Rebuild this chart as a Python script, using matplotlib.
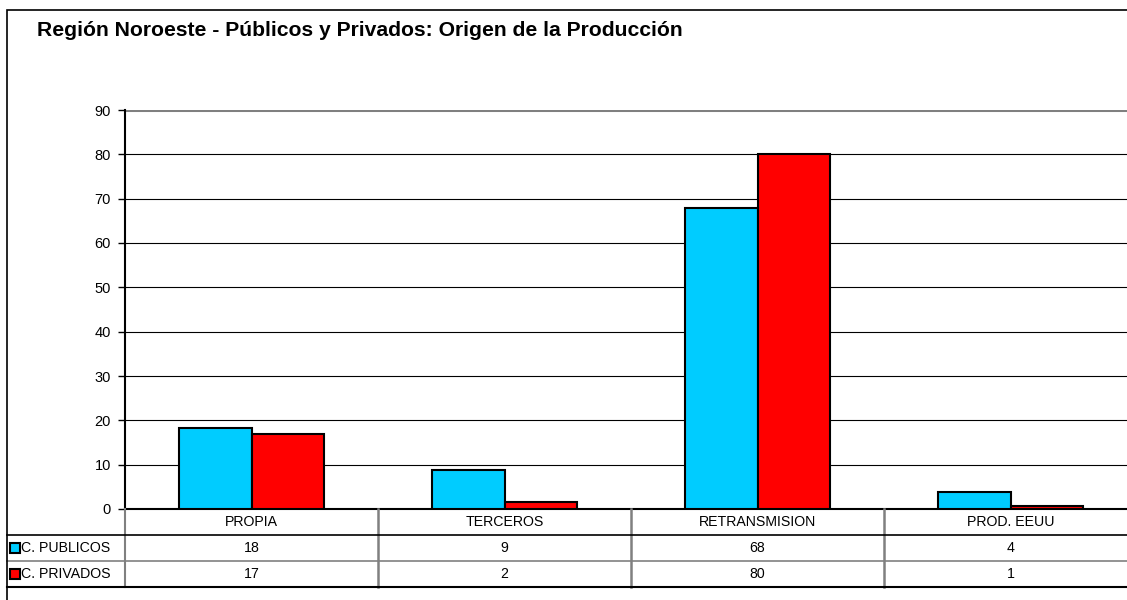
import numpy as np
import matplotlib.pyplot as plt
from matplotlib.patches import Rectangle

plt.rcParams['font.family'] = ['Liberation Sans', 'DejaVu Sans']

categories = ['PROPIA', 'TERCEROS', 'RETRANSMISION', 'PROD. EEUU']
series_names = ['C. PUBLICOS', 'C. PRIVADOS']
publicos = [18.2, 8.8, 67.8, 3.9]
privados = [16.9, 1.6, 80.1, 0.6]
colors = ['#00CCFF', '#FF0000']
yticks = list(range(0, 100, 10))

W, H = 1127, 600


def fx(px):
    return px / W


def fy(py):
    return 1 - py / H


fig = plt.figure(figsize=(W / 100, H / 100), dpi=100)

# outer frame (cut off right and bottom like the original)
fig.patches.append(Rectangle((fx(7), fy(620)), fx(1200), fy(10) - fy(620),
                             transform=fig.transFigure, fill=False,
                             edgecolor='black', lw=1.2))

fig.text(fx(37), fy(31), 'Región Noroeste - Públicos y Privados: Origen de la Producción',
         fontsize=15.2, fontweight='bold', va='center', ha='left')

ax = fig.add_axes([fx(125), fy(509), fx(1012), fy(110) - fy(509)])
x = np.arange(len(categories))
bw = 0.287
ax.bar(x - bw / 2, publicos, bw, color=colors[0], edgecolor='black', lw=1.5, zorder=3)
ax.bar(x + bw / 2, privados, bw, color=colors[1], edgecolor='black', lw=1.5, zorder=3)
ax.set_xlim(-0.5, len(categories) - 0.5)
ax.set_ylim(0, 90)
ax.set_yticks(yticks)
ax.set_xticks([])
ax.tick_params(axis='y', length=5, width=1, labelsize=10.5, pad=5, direction='out')
for t in yticks[1:-1]:
    ax.axhline(t, color='black', lw=0.8, zorder=1)
ax.axhline(90, color='#808080', lw=2.2, zorder=1)
for s in ['top', 'right']:
    ax.spines[s].set_visible(False)
ax.spines['left'].set_linewidth(1.5)
ax.spines['bottom'].set_linewidth(1.5)

# data table
tax = fig.add_axes([fx(125), fy(587), fx(1012), fy(509) - fy(587)], sharex=ax)
tax.set_ylim(3, 0)
tax.axis('off')
left = -0.5 - 118 / 253
right = len(categories) - 0.5
for i in range(1, len(categories)):
    tax.plot([i - 0.5, i - 0.5], [0, 3], color='#808080', lw=1.8, clip_on=False)
tax.plot([-0.5, -0.5], [0, 3], color='#808080', lw=1.5, clip_on=False)
tax.plot([left, right], [1, 1], color='black', lw=1.2, clip_on=False)
tax.plot([left, right], [2, 2], color='#808080', lw=1.2, clip_on=False)
tax.plot([left, right], [3, 3], color='black', lw=1.5, clip_on=False)

for i, c in enumerate(categories):
    tax.text(i, 0.5, c, ha='center', va='center', fontsize=10.2)

for r, (name, vals, col) in enumerate(zip(series_names, [publicos, privados], colors)):
    yy = r + 1.5
    tax.plot(left + 8 / 253, yy, marker='s', ms=7, mfc=col, mec='black', mew=1.5,
             clip_on=False)
    tax.text(left + 14 / 253, yy, name, ha='left', va='center', fontsize=10.2)
    for i, v in enumerate(vals):
        tax.text(i, yy, f'{v:.0f}', ha='center', va='center', fontsize=10.2)

fig.savefig('out.png', dpi=100)
